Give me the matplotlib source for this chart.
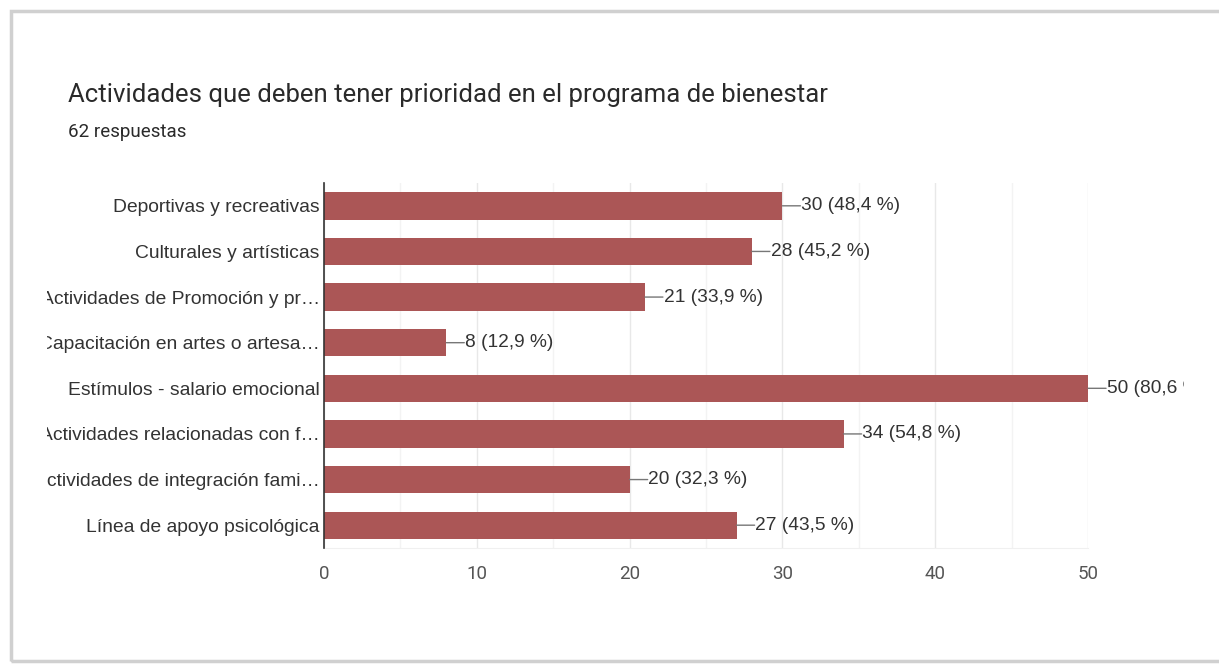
import matplotlib.pyplot as plt
from matplotlib.patches import Rectangle
from matplotlib.transforms import Bbox

categorias = [
    "Deportivas y recreativas",
    "Culturales y artísticas",
    "Actividades de Promoción y pr…",
    "Capacitación en artes o artesa…",
    "Estímulos - salario emocional",
    "Actividades relacionadas con f…",
    "Actividades de integración fami…",
    "Línea de apoyo psicológica",
]
respuestas = [30, 28, 21, 8, 50, 34, 20, 27]
porcentajes = ["48,4", "45,2", "33,9", "12,9", "80,6", "54,8", "32,3", "43,5"]
total = 62
ticks = [0, 10, 20, 30, 40, 50]

color_barra = "#ab5656"
gris = "#555555"

W, H = 1219, 672
fig = plt.figure(figsize=(W / 100, H / 100), dpi=100)
fig.patch.set_facecolor("white")

# tarjeta con borde gris
fig.patches.append(Rectangle((11 / W, 11 / H), 1.2, 650 / H, transform=fig.transFigure,
                             facecolor="none", edgecolor="#d0d0d0", lw=2.5, zorder=0))

ax = fig.add_axes([324 / W, (H - 548) / H, (1088 - 324) / W, (548 - 183) / H])
y = list(range(len(categorias)))
ax.barh(y, respuestas, height=0.6, color=color_barra, zorder=3)
ax.set_ylim(len(categorias) - 0.5, -0.5)
ax.set_xlim(0, 50)

ax.set_xticks(ticks)
ax.set_xticks(range(5, 50, 10), minor=True)
ax.grid(axis="x", which="major", color="#e8e8e8", lw=1, zorder=0)
ax.grid(axis="x", which="minor", color="#f3f3f3", lw=1, zorder=0)
ax.tick_params(axis="x", which="both", length=0, pad=12, labelsize=13.5, labelcolor=gris)
ax.tick_params(axis="y", length=0, pad=3, labelsize=13.9, labelcolor="#333333")
ax.set_yticks(y)
ax.set_yticklabels(categorias, family="Liberation Sans")
for t in ax.get_xticklabels():
    t.set_family("Roboto")

for s in ["top", "right"]:
    ax.spines[s].set_visible(False)
ax.spines["bottom"].set_color("#f0f0f0")
ax.spines["left"].set_color("#333333")
ax.spines["left"].set_linewidth(1.2)
ax.spines["left"].set_zorder(5)

# recorte de las etiquetas
clip_izq = Bbox.from_extents(47, 0, W, H)
for t in ax.get_yticklabels():
    t.set_clip_on(True)
    t.set_clip_box(clip_izq)

clip_der = Bbox.from_extents(0, 0, 1184, H)
for i, (v, p) in enumerate(zip(respuestas, porcentajes)):
    ax.annotate("", xy=(v, i), xytext=(13, 0), textcoords="offset points",
                arrowprops=dict(arrowstyle="-", color="#777777", lw=1, shrinkA=0, shrinkB=0),
                annotation_clip=False)
    txt = ax.annotate(f"{v} ({p} %)", xy=(v, i), xytext=(13.5, 0), textcoords="offset points",
                      va="center", ha="left", fontsize=13.8, color="#333333",
                      family="Liberation Sans", annotation_clip=False)
    txt.set_clip_on(True)
    txt.set_clip_box(clip_der)

fig.text(68 / W, 1 - 95 / H, "Actividades que deben tener prioridad en el programa de bienestar",
         fontsize=18.5, family="Roboto", color="#2a2a2a", va="center")
fig.text(68 / W, 1 - 132 / H, f"{total} respuestas", fontsize=13.5, family="Roboto",
         color="#2a2a2a", va="center")

fig.savefig("out.png", dpi=100)
